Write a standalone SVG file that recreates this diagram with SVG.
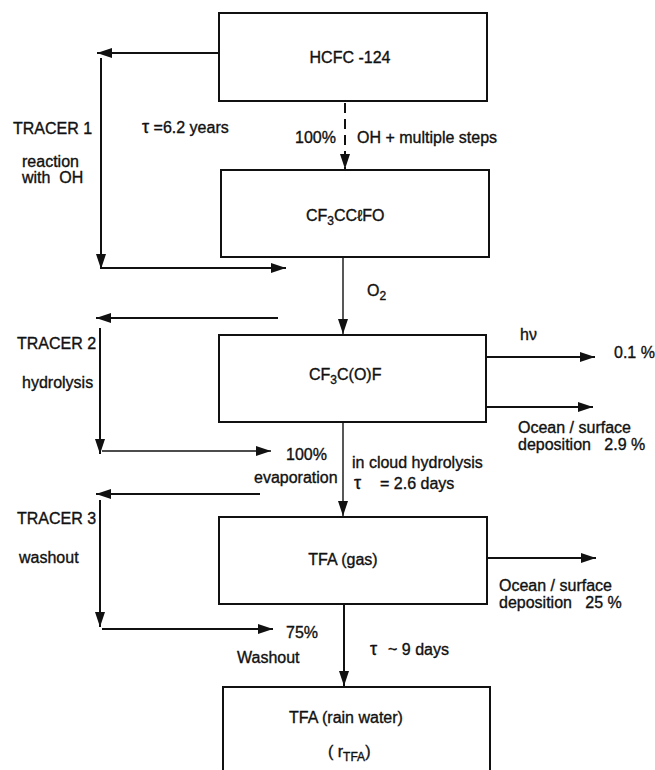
<svg xmlns="http://www.w3.org/2000/svg" width="655" height="770" viewBox="0 0 655 770">
<style>
text{font-family:"Liberation Sans",Arial,sans-serif;font-size:16px;fill:#111;stroke:#111;stroke-width:0.35}
.box{fill:#fff;stroke:#111;stroke-width:2}
.c{stroke:#111;stroke-width:2;fill:none}
.thin{stroke:#111;stroke-width:1.4;fill:none}
.sub{font-size:12px}
.mid{text-anchor:middle}
.tau{font-size:18px}
</style>
<defs>
<marker id="ah" markerWidth="15" markerHeight="10" refX="15" refY="5" orient="auto" markerUnits="userSpaceOnUse"><path d="M0,0 L15,5 L0,10 Z" fill="#111"/></marker>
</defs>
<rect width="655" height="770" fill="#fff"/>
<g id="connectors">
<line class="c" x1="219" y1="53" x2="97" y2="53" marker-end="url(#ah)"/>
<line class="c" x1="101" y1="58" x2="101" y2="269" marker-end="url(#ah)"/>
<line class="c" x1="102" y1="268" x2="286" y2="268" marker-end="url(#ah)"/>
<line class="c" x1="345" y1="103" x2="345" y2="169" stroke-dasharray="10,6" marker-end="url(#ah)"/>
<line class="thin" x1="343" y1="258" x2="343" y2="334" marker-end="url(#ah)"/>
<line class="c" x1="278" y1="318" x2="96" y2="318" marker-end="url(#ah)"/>
<line class="c" x1="100" y1="328" x2="100" y2="454" marker-end="url(#ah)"/>
<line class="thin" x1="102" y1="451" x2="271" y2="451" marker-end="url(#ah)"/>
<line class="thin" x1="343" y1="423" x2="343" y2="516" marker-end="url(#ah)"/>
<line class="c" x1="260" y1="494" x2="96" y2="494" marker-end="url(#ah)"/>
<line class="c" x1="100" y1="500" x2="100" y2="627" marker-end="url(#ah)"/>
<line class="c" x1="102" y1="629" x2="273" y2="629" marker-end="url(#ah)"/>
<line class="c" x1="344" y1="605" x2="344" y2="686" marker-end="url(#ah)"/>
<line class="c" x1="487" y1="357" x2="595" y2="357" marker-end="url(#ah)"/>
<line class="c" x1="487" y1="407" x2="593" y2="407" marker-end="url(#ah)"/>
<line class="c" x1="488" y1="558" x2="596" y2="558" marker-end="url(#ah)"/>
</g>
<g id="hcfc124">
<rect class="box" x="219" y="13" width="268" height="88"/>
<text class="mid" x="350" y="63">HCFC -124</text>
</g>
<g id="cf3cclfo">
<rect class="box" x="221" y="170" width="268" height="87"/>
<text x="306" y="221">CF<tspan class="sub" dy="4">3</tspan><tspan dy="-4">CCℓFO</tspan></text>
</g>
<g id="cf3cof">
<rect class="box" x="219" y="335" width="267" height="87"/>
<text x="309" y="380">CF<tspan class="sub" dy="4">3</tspan><tspan dy="-4">C(O)F</tspan></text>
</g>
<g id="tfa-gas">
<rect class="box" x="219" y="517" width="268" height="87"/>
<text class="mid" x="343" y="565">TFA (gas)</text>
</g>
<g id="tfa-rain">
<path class="box" d="M223,775 V687 H490 V775"/>
<text class="mid" x="346" y="723">TFA (rain water)</text>
<text x="328" y="757">( r<tspan class="sub" dy="4">TFA</tspan><tspan dy="-4">)</tspan></text>
</g>
<g id="labels">
<text x="13" y="134">TRACER 1</text>
<text x="22" y="167">reaction</text>
<text x="22" y="183" xml:space="preserve">with  OH</text>
<text x="142" y="133"><tspan class="tau">τ</tspan> =6.2 years</text>
<text x="295" y="143">100%</text>
<text x="357" y="143">OH + multiple steps</text>
<text x="367" y="296">O<tspan class="sub" dy="4">2</tspan></text>
<text x="17" y="349">TRACER 2</text>
<text x="22" y="388">hydrolysis</text>
<text x="520" y="340">hν</text>
<text x="614" y="358">0.1 %</text>
<text x="518" y="433">Ocean / surface</text>
<text x="518" y="450" xml:space="preserve">deposition   2.9 %</text>
<text x="286" y="460">100%</text>
<text x="254" y="483">evaporation</text>
<text x="352" y="468">in cloud hydrolysis</text>
<text class="tau" x="354" y="489">τ</text>
<text x="380" y="489">= 2.6 days</text>
<text x="17" y="524">TRACER 3</text>
<text x="19" y="563">washout</text>
<text x="499" y="591">Ocean / surface</text>
<text x="499" y="608" xml:space="preserve">deposition   25 %</text>
<text x="286" y="638">75%</text>
<text x="237" y="663">Washout</text>
<text class="tau" x="370" y="655">τ</text>
<text x="388" y="655">~ 9 days</text>
</g>
</svg>
